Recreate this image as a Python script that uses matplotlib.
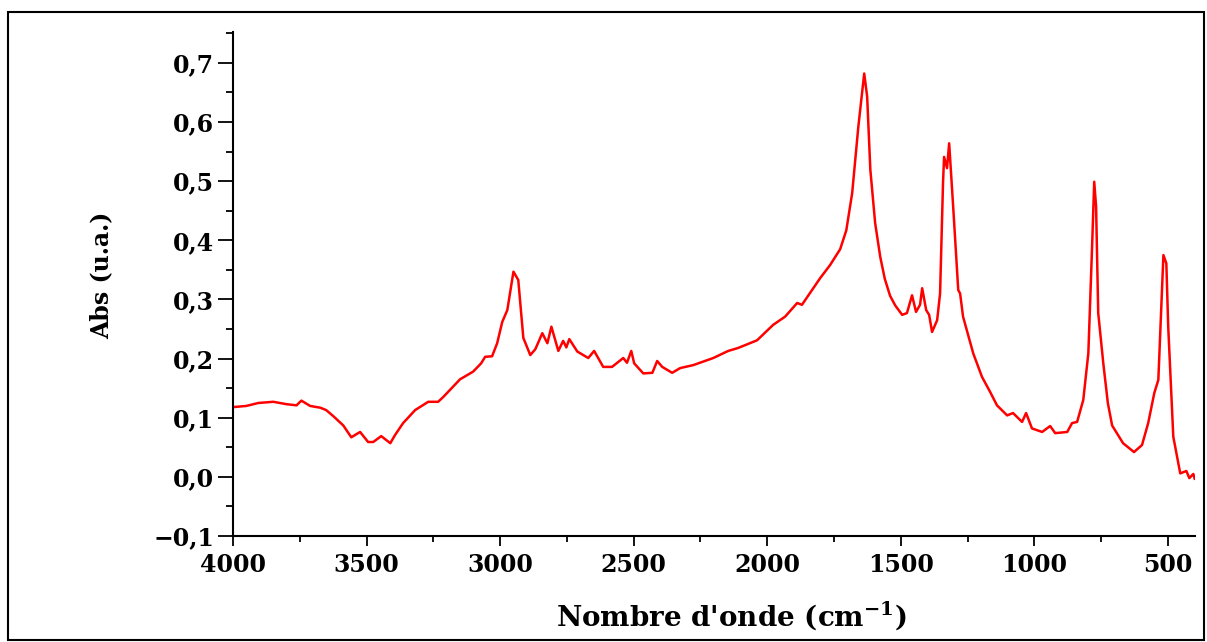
import matplotlib
matplotlib.use('Agg')
import matplotlib.pyplot as plt
from matplotlib.patches import Rectangle
from matplotlib.ticker import MultipleLocator

# FTIR spectrum (wavenumber cm-1, absorbance)
wavenumber = [4000, 3950, 3905, 3849, 3800, 3762, 3744, 3711, 3673, 3651,
              3625, 3587, 3557, 3524, 3494, 3475, 3445, 3411, 3393, 3363,
              3318, 3269, 3232, 3213, 3150, 3101, 3071, 3056, 3030, 3011,
              2992, 2973, 2950, 2932, 2913, 2887, 2868, 2842, 2823, 2808,
              2782, 2764, 2752, 2741, 2711, 2670, 2648, 2614, 2581, 2539,
              2525, 2509, 2498, 2464, 2430, 2412, 2393, 2356, 2326, 2277,
              2202, 2146, 2109, 2038, 1978, 1933, 1888, 1870, 1832, 1802,
              1765, 1727, 1704, 1682, 1659, 1637, 1626, 1614, 1596, 1577,
              1560, 1540, 1521, 1495, 1477, 1458, 1443, 1428, 1420, 1405, 1394,
              1383, 1364, 1353, 1342, 1338, 1327, 1319, 1304, 1285, 1278,
              1267, 1229, 1196, 1166, 1140, 1102, 1080, 1046, 1031, 1009,
              971, 941, 922, 877, 859, 840, 817, 798, 784, 776,
              769, 761, 742, 725, 709, 668, 627, 597, 574, 551, 536,
              521, 517, 506, 499, 480, 454, 431, 420, 405, 400]
absorbance = [0.118, 0.120, 0.125, 0.127, 0.123, 0.121, 0.129, 0.120, 0.117, 0.113,
              0.103, 0.087, 0.067, 0.076, 0.059, 0.059, 0.069, 0.057, 0.071, 0.091,
              0.113, 0.127, 0.127, 0.135, 0.165, 0.178, 0.192, 0.203, 0.204, 0.226,
              0.262, 0.282, 0.347, 0.333, 0.235, 0.206, 0.216, 0.243, 0.226, 0.254,
              0.213, 0.230, 0.219, 0.233, 0.212, 0.201, 0.213, 0.186, 0.186, 0.201,
              0.193, 0.213, 0.192, 0.175, 0.176, 0.196, 0.186, 0.176, 0.184, 0.189,
              0.201, 0.213, 0.218, 0.231, 0.257, 0.271, 0.294, 0.291, 0.316, 0.336,
              0.358, 0.385, 0.417, 0.480, 0.592, 0.682, 0.643, 0.519, 0.429, 0.372,
              0.335, 0.306, 0.290, 0.274, 0.277, 0.307, 0.279, 0.291, 0.319, 0.282, 0.274,
              0.245, 0.265, 0.310, 0.497, 0.541, 0.522, 0.564, 0.457, 0.316, 0.310,
              0.271, 0.209, 0.169, 0.144, 0.121, 0.104, 0.108, 0.093, 0.108, 0.082,
              0.076, 0.086, 0.074, 0.076, 0.091, 0.093, 0.130, 0.209, 0.389, 0.499,
              0.457, 0.277, 0.192, 0.125, 0.087, 0.057, 0.042, 0.054, 0.091, 0.142, 0.164,
              0.333, 0.375, 0.361, 0.254, 0.068, 0.006, 0.010, -0.002, 0.005, -0.003]

xticks = [4000, 3500, 3000, 2500, 2000, 1500, 1000, 500]
xticklabels = ['4000', '3500', '3000', '2500', '2000', '1500', '1000', '500']
yticks = [-0.1, 0.0, 0.1, 0.2, 0.3, 0.4, 0.5, 0.6, 0.7]
yticklabels = ['\u22120,1', '0,0', '0,1', '0,2', '0,3', '0,4', '0,5', '0,6', '0,7']

plt.rcParams['font.family'] = 'DejaVu Serif'
plt.rcParams['font.weight'] = 'bold'
plt.rcParams['mathtext.fontset'] = 'dejavuserif'

fig = plt.figure(figsize=(12.07, 6.42), dpi=100)
ax = fig.add_axes([0.193, 0.165, 0.797, 0.785])

ax.plot(wavenumber, absorbance, color='#ff0000', lw=1.8)

ax.set_xlim(4000, 399)
ax.set_ylim(-0.1, 0.752)

ax.set_xticks(xticks)
ax.set_xticklabels(xticklabels, fontsize=17, fontweight='bold')
ax.set_yticks(yticks)
ax.set_yticklabels(yticklabels, fontsize=17, fontweight='bold')
ax.xaxis.set_minor_locator(MultipleLocator(250))
ax.yaxis.set_minor_locator(MultipleLocator(0.05))

ax.tick_params(axis='x', which='major', direction='out', length=7.5, width=1.3, pad=5)
ax.tick_params(axis='x', which='minor', direction='out', length=4.3, width=1.3)
ax.tick_params(axis='y', which='major', direction='out', length=10.5, width=1.3, pad=3)
ax.tick_params(axis='y', which='minor', direction='out', length=5, width=1.3)

for side in ['top', 'right']:
    ax.spines[side].set_visible(False)
for side in ['left', 'bottom']:
    ax.spines[side].set_linewidth(1.5)

ax.set_xlabel("Nombre d'onde (cm$^{\\mathbf{-1}}$)", fontsize=20, fontweight='bold', va='center')
ax.xaxis.set_label_coords(0.518, -0.157)
ax.set_ylabel('Abs (u.a.)', fontsize=17, fontweight='bold', va='center')
ax.yaxis.set_label_coords(-0.137, 0.518)

# outer frame round the whole picture
fig.patches.append(Rectangle((8 / 1207, 2 / 642), 1196 / 1207, 628 / 642,
                             transform=fig.transFigure, fill=False,
                             edgecolor='black', lw=1.5))

fig.savefig('out.png', dpi=100)
